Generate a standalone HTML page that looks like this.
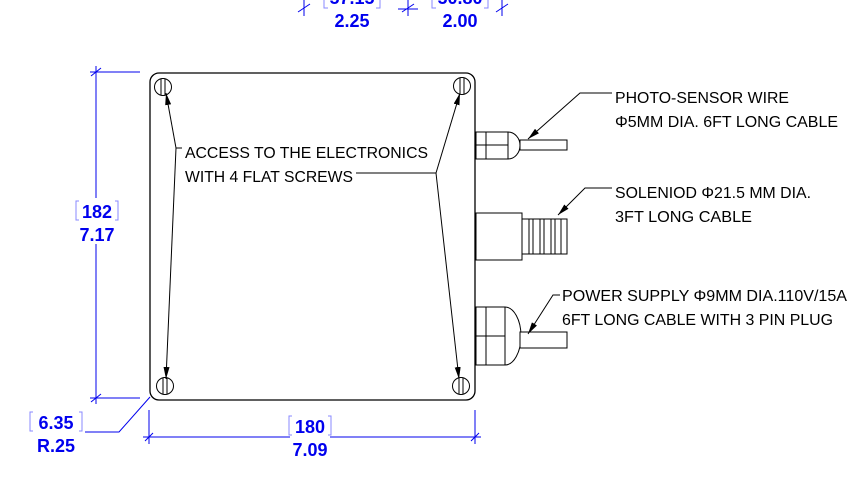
<!DOCTYPE html>
<html><head><meta charset="utf-8"><style>
html,body{margin:0;padding:0;background:#fff;width:866px;height:500px;overflow:hidden}
svg{display:block}
.t{font-family:"Liberation Sans",sans-serif;font-size:16px;fill:#000}
.d{font-family:"Liberation Sans",sans-serif;font-size:18px;font-weight:bold;fill:#0000ee}
</style></head><body>
<svg width="866" height="500" viewBox="0 0 866 500" xmlns="http://www.w3.org/2000/svg">
<defs>
<marker id="a" markerWidth="12" markerHeight="6" refX="12" refY="3" orient="auto" markerUnits="userSpaceOnUse"><path d="M0,0 L12,3 L0,6z" fill="#000"/></marker>
</defs>
<!-- top dims -->
<g stroke="#0000ee" stroke-width="1" fill="none">
<line x1="304" y1="0" x2="304" y2="16"/><line x1="298" y1="12" x2="310" y2="4"/>
<line x1="398" y1="9" x2="418" y2="9"/><line x1="408" y1="0" x2="408" y2="16"/><line x1="402" y1="12" x2="414" y2="4"/>
<line x1="502" y1="0" x2="502" y2="16"/><line x1="496" y1="12" x2="508" y2="4"/>
<path d="M324,0 V8 H328 M380,0 V8 H376" stroke="#8888ff"/>
<path d="M432,0 V8 H436 M488,0 V8 H484" stroke="#8888ff"/>
</g>
<text class="d" x="352" y="4" text-anchor="middle">57.15</text>
<text class="d" x="460" y="4" text-anchor="middle">50.80</text>
<text class="d" x="352" y="27" text-anchor="middle">2.25</text>
<text class="d" x="460" y="27" text-anchor="middle">2.00</text>
<!-- box -->
<rect x="150" y="73" width="325" height="327" rx="9" fill="none" stroke="#000" stroke-width="1.3"/>
<!-- screws -->
<g stroke="#000" stroke-width="1" fill="none">
<circle cx="163" cy="87" r="8.5"/><line x1="161" y1="78.5" x2="161" y2="95.5"/><line x1="165" y1="78.5" x2="165" y2="95.5"/>
<circle cx="462" cy="86" r="8.5"/><line x1="460" y1="77.5" x2="460" y2="94.5"/><line x1="464" y1="77.5" x2="464" y2="94.5"/>
<circle cx="165" cy="386" r="8.5"/><line x1="163" y1="377.5" x2="163" y2="394.5"/><line x1="167" y1="377.5" x2="167" y2="394.5"/>
<circle cx="461" cy="386" r="8.5"/><line x1="459" y1="377.5" x2="459" y2="394.5"/><line x1="463" y1="377.5" x2="463" y2="394.5"/>
<line x1="176" y1="148" x2="182" y2="148"/>
<line x1="176" y1="148" x2="166" y2="93" marker-end="url(#a)"/>
<line x1="176" y1="148" x2="166" y2="379" marker-end="url(#a)"/>
<line x1="356" y1="173" x2="436" y2="173"/>
<line x1="436" y1="173" x2="460" y2="93" marker-end="url(#a)"/>
<line x1="436" y1="173" x2="459" y2="379" marker-end="url(#a)"/>
</g>
<text class="t" x="185" y="158" textLength="243" lengthAdjust="spacingAndGlyphs">ACCESS TO THE ELECTRONICS</text>
<text class="t" x="185" y="182" textLength="168" lengthAdjust="spacingAndGlyphs">WITH 4 FLAT SCREWS</text>
<!-- connectors -->
<g stroke="#000" stroke-width="1" fill="#fff">
<path d="M476,132 H508 A12,13.5 0 0 1 508,159 H476z"/>
<line x1="486" y1="132" x2="486" y2="159"/><line x1="476" y1="145" x2="508" y2="145"/><line x1="508" y1="132" x2="508" y2="159"/>
<rect x="520" y="140" width="47" height="10"/>
<rect x="476" y="213" width="46" height="47"/>
<rect x="522" y="219" width="45" height="35"/>
<line x1="529" y1="219" x2="529" y2="254"/><line x1="533" y1="219" x2="533" y2="254"/>
<line x1="540" y1="219" x2="540" y2="254"/><line x1="544" y1="219" x2="544" y2="254"/>
<line x1="551" y1="219" x2="551" y2="254"/><line x1="555" y1="219" x2="555" y2="254"/>
<line x1="561" y1="219" x2="561" y2="254"/>
<path d="M476,307 H505 A16,29 0 0 1 505,365 H476z"/>
<line x1="486" y1="307" x2="486" y2="365"/><line x1="476" y1="336" x2="505" y2="336"/><line x1="505" y1="307" x2="505" y2="365"/>
<rect x="520" y="332" width="47" height="16"/>
</g>
<g stroke="#000" stroke-width="1" fill="none">
<path d="M612,93 H580 L528,139" marker-end="url(#a)"/>
<path d="M612,188 H585 L558,215" marker-end="url(#a)"/>
<path d="M560,295 H553 L528,334" marker-end="url(#a)"/>
</g>
<text class="t" x="615" y="103" textLength="174" lengthAdjust="spacingAndGlyphs">PHOTO-SENSOR WIRE</text>
<text class="t" x="615" y="127" textLength="223" lengthAdjust="spacingAndGlyphs">Φ5MM DIA. 6FT LONG CABLE</text>
<text class="t" x="615" y="198" textLength="196" lengthAdjust="spacingAndGlyphs">SOLENIOD Φ21.5 MM DIA.</text>
<text class="t" x="615" y="222" textLength="137" lengthAdjust="spacingAndGlyphs">3FT LONG CABLE</text>
<text class="t" x="562" y="301" textLength="285" lengthAdjust="spacingAndGlyphs">POWER SUPPLY Φ9MM DIA.110V/15A</text>
<text class="t" x="562" y="325" textLength="271" lengthAdjust="spacingAndGlyphs">6FT LONG CABLE WITH 3 PIN PLUG</text>
<g stroke="#0000ee" stroke-width="1" fill="none">
<line x1="90" y1="72" x2="140" y2="72"/><line x1="90" y1="398" x2="140" y2="398"/>
<line x1="96" y1="66" x2="96" y2="198"/><line x1="96" y1="244" x2="96" y2="404"/>
<line x1="91" y1="76" x2="101" y2="68"/><line x1="91" y1="402" x2="101" y2="394"/>
<path d="M79,201 H76 V220 H79 M115,201 H118 V220 H115" stroke="#8888ff"/>
<line x1="149" y1="410" x2="149" y2="444"/><line x1="475" y1="410" x2="475" y2="444"/>
<line x1="143" y1="437" x2="290" y2="437"/><line x1="330" y1="437" x2="481" y2="437"/>
<line x1="145" y1="441" x2="153" y2="433"/><line x1="471" y1="441" x2="479" y2="433"/>
<path d="M292,416 H289 V435 H292 M328,416 H331 V435 H328" stroke="#8888ff"/>
<path d="M85,432 H119 L150,397"/>
<path d="M33,412 H30 V431 H33 M79,412 H82 V431 H79" stroke="#8888ff"/>
</g>
<text class="d" x="97" y="218" text-anchor="middle">182</text>
<text class="d" x="97" y="241" text-anchor="middle">7.17</text>
<text class="d" x="310" y="433" text-anchor="middle">180</text>
<text class="d" x="310" y="456" text-anchor="middle">7.09</text>
<text class="d" x="56" y="429" text-anchor="middle">6.35</text>
<text class="d" x="56" y="452" text-anchor="middle">R.25</text>
</svg>
</body></html>
